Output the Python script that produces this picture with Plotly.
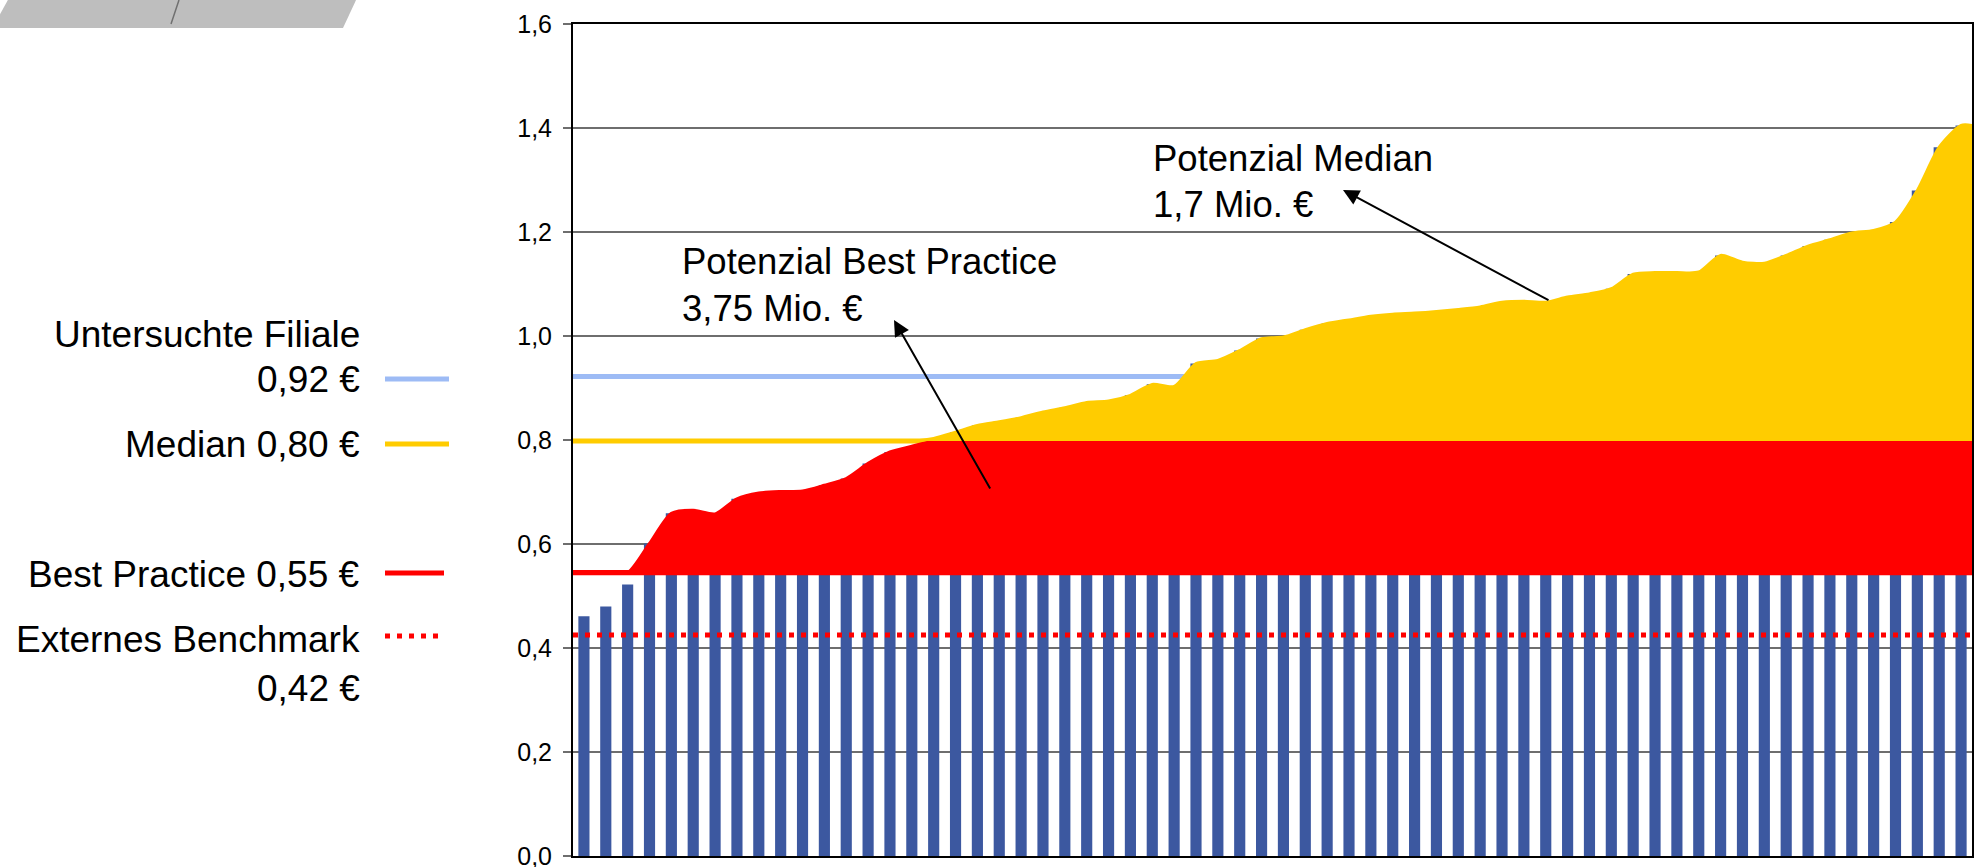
import plotly.graph_objects as go

# ---------------- data ----------------
filialen = list(range(1, 65))
kosten = [0.461, 0.480, 0.522, 0.601, 0.659, 0.665, 0.658, 0.687, 0.698, 0.701,
          0.702, 0.713, 0.726, 0.755, 0.777, 0.788, 0.803, 0.815, 0.828, 0.835,
          0.843, 0.854, 0.862, 0.872, 0.875, 0.886, 0.907, 0.903, 0.947, 0.953,
          0.972, 0.995, 0.998, 1.012, 1.024, 1.031, 1.038, 1.042, 1.044, 1.047,
          1.051, 1.056, 1.065, 1.067, 1.065, 1.075, 1.081, 1.091, 1.119, 1.122,
          1.122, 1.123, 1.155, 1.142, 1.140, 1.155, 1.173, 1.185, 1.198, 1.203,
          1.219, 1.280, 1.363, 1.405]

FILIALE = 0.922
MEDIAN = 0.798
BEST_PRACTICE = 0.545
BENCHMARK = 0.425
AREA_BASE = 0.54

y_ticks = [0.0, 0.2, 0.4, 0.6, 0.8, 1.0, 1.2, 1.4, 1.6]

legend_texts = ["Untersuchte Filiale", "0,92 €", "Median 0,80 €",
                "Best Practice 0,55 €", "Externes Benchmark", "0,42 €"]
pot_median = ["Potenzial Median", "1,7 Mio. €"]
pot_bp = ["Potenzial Best Practice", "3,75 Mio. €"]

# ---------------- layout geometry ----------------
W, H = 1977, 867
ML, MR, MT, MB = 573, 5, 24, 11
PW, PH = W - ML - MR, H - MT - MB


def px_x(x):
    return (x - ML) / PW


def px_y(y):
    return (H - MB - y) / PH


FONT = "Arial, Liberation Sans, sans-serif"
BLUE_BAR = "#3C58A0"
RED = "#FF0000"
YELLOW = "#FFCC00"
LIGHTBLUE = "#9DBBF5"

n = len(kosten)
x_lo, x_hi = filialen[0] - 0.5, filialen[-1] + 0.5
# areas run edge to edge of the plot: first/last value held to the axis edges
area_x = [x_lo] + filialen + [x_hi]
area_v = [kosten[0]] + kosten + [kosten[-1]]
m = len(area_x)
red_top = [min(max(v, BEST_PRACTICE), MEDIAN) for v in area_v]
yellow_top = [max(v, MEDIAN) for v in area_v]

fig = go.Figure()

# bars
fig.add_trace(go.Bar(x=filialen, y=kosten, marker=dict(color=BLUE_BAR, line=dict(width=0)),
                     showlegend=False))

x_ends = [x_lo, x_hi]
fig.add_trace(go.Scatter(x=x_ends, y=[FILIALE] * 2, mode="lines",
                         line=dict(color=LIGHTBLUE, width=5), showlegend=False))
fig.add_trace(go.Scatter(x=x_ends, y=[MEDIAN] * 2, mode="lines",
                         line=dict(color=YELLOW, width=5), showlegend=False))
fig.add_trace(go.Scatter(x=x_ends, y=[BEST_PRACTICE] * 2, mode="lines",
                         line=dict(color=RED, width=5), showlegend=False))

# red area
fig.add_trace(go.Scatter(x=area_x, y=[AREA_BASE] * m, mode="lines", line=dict(width=0),
                         showlegend=False))
fig.add_trace(go.Scatter(x=area_x, y=red_top, mode="lines", fill="tonexty", fillcolor=RED,
                         line=dict(color=RED, width=3, shape="spline", smoothing=0.7),
                         showlegend=False))
# yellow area
fig.add_trace(go.Scatter(x=area_x, y=[MEDIAN] * m, mode="lines", line=dict(width=0),
                         showlegend=False))
fig.add_trace(go.Scatter(x=area_x, y=yellow_top, mode="lines", fill="tonexty", fillcolor=YELLOW,
                         line=dict(color=YELLOW, width=3, shape="spline", smoothing=0.7),
                         showlegend=False))

# external benchmark dotted
fig.add_trace(go.Scatter(x=x_ends, y=[BENCHMARK] * 2, mode="lines",
                         line=dict(color=RED, width=5, dash="5px,7px"), showlegend=False))

annotations = []
legend_y = [334, 379, 444, 574, 639, 688]
for txt, yy in zip(legend_texts, legend_y):
    annotations.append(dict(text=txt, xref="paper", yref="paper", x=px_x(362), y=px_y(yy),
                            xanchor="right", yanchor="middle", showarrow=False,
                            font=dict(family=FONT, size=37, color="black")))

for txt, (xx, yy) in zip(pot_median, [(1151, 158), (1151, 204)]):
    annotations.append(dict(text=txt, xref="paper", yref="paper", x=px_x(xx), y=px_y(yy),
                            xanchor="left", yanchor="middle", showarrow=False,
                            font=dict(family=FONT, size=36.5, color="black")))
for txt, (xx, yy) in zip(pot_bp, [(680, 261), (680, 309)]):
    annotations.append(dict(text=txt, xref="paper", yref="paper", x=px_x(xx), y=px_y(yy),
                            xanchor="left", yanchor="middle", showarrow=False,
                            font=dict(family=FONT, size=36.5, color="black")))

for head, tail in [((1343, 190), (1550, 301)), ((894, 320), (991, 490))]:
    annotations.append(dict(text="", xref="paper", yref="paper", x=px_x(head[0]), y=px_y(head[1]),
                            axref="pixel", ayref="pixel", ax=tail[0] - head[0], ay=tail[1] - head[1],
                            showarrow=True, arrowhead=2, arrowsize=1.6, arrowwidth=2,
                            arrowcolor="black", standoff=0, startstandoff=0))

shapes = []
for (x0, x1, yy, col, dash) in [(385, 449, 379, LIGHTBLUE, "solid"),
                                (385, 449, 444, YELLOW, "solid"),
                                (385, 444, 573, RED, "solid"),
                                (385, 444, 636, RED, "5px,7px")]:
    shapes.append(dict(type="line", xref="paper", yref="paper",
                       x0=px_x(x0), x1=px_x(x1), y0=px_y(yy), y1=px_y(yy),
                       line=dict(color=col, width=5, dash=dash)))

path = "M " + " L ".join(f"{px_x(a):.5f},{px_y(b):.5f}" for a, b in
                         [(9, -2), (357, -2), (343, 28), (-2, 28), (-2, 18)]) + " Z"
shapes.append(dict(type="path", xref="paper", yref="paper", path=path,
                   fillcolor="#BEBEBE", line=dict(width=0), layer="above"))
shapes.append(dict(type="line", xref="paper", yref="paper",
                   x0=px_x(179), y0=px_y(0), x1=px_x(171), y1=px_y(24),
                   line=dict(color="#707070", width=1.5)))

fig.update_layout(
    width=W, height=H,
    margin=dict(l=ML, r=MR, t=MT, b=MB, pad=0, autoexpand=False),
    paper_bgcolor="white", plot_bgcolor="white",
    separators=",.",
    bargap=0.49,
    showlegend=False,
    font=dict(family=FONT, color="black"),
    xaxis=dict(range=[x_lo, x_hi], showticklabels=False, ticks="", showgrid=False,
               zeroline=False, showline=True, linecolor="black", linewidth=2, mirror=True,
               automargin=False, fixedrange=True),
    yaxis=dict(range=[y_ticks[0], y_ticks[-1]], tickvals=y_ticks, tickformat=".1f",
               showgrid=True, gridcolor="#6E6E6E", gridwidth=1.5, zeroline=False,
               showline=True, linecolor="black", linewidth=2, mirror=True,
               ticks="outside", ticklen=8, tickwidth=1.5, tickcolor="#6E6E6E",
               ticklabelstandoff=6, ticklabeloverflow="allow", automargin=False,
               tickfont=dict(family=FONT, size=25, color="black"), fixedrange=True),
    annotations=annotations,
    shapes=shapes,
)

fig.write_html("out.html")
